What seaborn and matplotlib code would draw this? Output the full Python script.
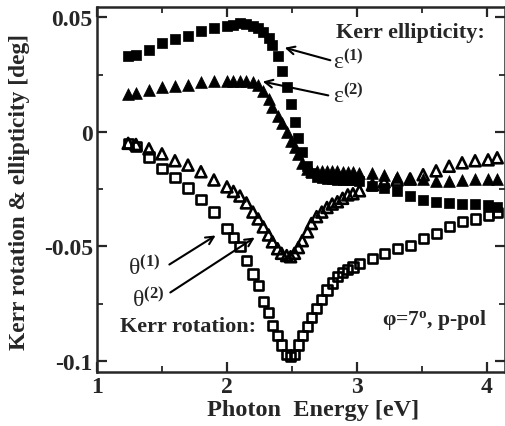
import numpy as np
import pandas as pd
import matplotlib
matplotlib.use("Agg")
import matplotlib.pyplot as plt
import seaborn as sns
from matplotlib.ticker import MultipleLocator, FixedLocator, FixedFormatter

energy = [1.24, 1.30, 1.40, 1.50, 1.60, 1.70, 1.80, 1.90, 2.00, 2.05,
          2.10, 2.15, 2.20, 2.24, 2.28, 2.32, 2.35, 2.39, 2.42, 2.46,
          2.49, 2.52, 2.55, 2.58, 2.62, 2.65, 2.69, 2.73, 2.77, 2.81,
          2.85, 2.89, 2.93, 2.97, 3.02, 3.12, 3.21, 3.31, 3.41, 3.51,
          3.61, 3.71, 3.81, 3.91, 4.01, 4.08]

eps1 = [0.0330, 0.0336, 0.0358, 0.0388, 0.0405, 0.0418, 0.0440, 0.0454, 0.0462, 0.0466,
        0.0475, 0.0472, 0.0460, 0.0452, 0.0438, 0.0410, 0.0380, 0.0330, 0.0266, 0.0196,
        0.0122, 0.0044, -0.0025, -0.0090, -0.0150, -0.0180, -0.0195, -0.0200, -0.0205, -0.0205,
        -0.0210, -0.0210, -0.0210, -0.0210, -0.0215, -0.0235, -0.0245, -0.0260, -0.0280, -0.0297,
        -0.0306, -0.0310, -0.0314, -0.0314, -0.0320, -0.0330]

eps2 = [0.0166, 0.0170, 0.0183, 0.0196, 0.0200, 0.0205, 0.0218, 0.0222, 0.0222, 0.0222,
        0.0222, 0.0222, 0.0218, 0.0205, 0.0180, 0.0144, 0.0110, 0.0070, 0.0040, 0.0000,
        -0.0040, -0.0065, -0.0095, -0.0135, -0.0160, -0.0170, -0.0172, -0.0172, -0.0172, -0.0172,
        -0.0172, -0.0175, -0.0175, -0.0175, -0.0180, -0.0180, -0.0190, -0.0196, -0.0205, -0.0205,
        -0.0213, -0.0213, -0.0210, -0.0205, -0.0205, -0.0205]

theta1 = [-0.0052, -0.0065, -0.0110, -0.0160, -0.0200, -0.0245, -0.0296, -0.0350, -0.0420, -0.0460,
          -0.0500, -0.0560, -0.0620, -0.0670, -0.0740, -0.0790, -0.0846, -0.0890, -0.0930, -0.0970,
          -0.0980, -0.0970, -0.0930, -0.0890, -0.0850, -0.0810, -0.0770, -0.0730, -0.0690, -0.0660,
          -0.0630, -0.0615, -0.0600, -0.0590, -0.0576, -0.0554, -0.0530, -0.0510, -0.0497, -0.0467,
          -0.0445, -0.0414, -0.0390, -0.0380, -0.0366, -0.0353]

theta2 = [-0.0050, -0.0055, -0.0074, -0.0096, -0.0126, -0.0145, -0.0174, -0.0210, -0.0240, -0.0260,
          -0.0280, -0.0310, -0.0350, -0.0380, -0.0415, -0.0450, -0.0480, -0.0510, -0.0530, -0.0540,
          -0.0545, -0.0530, -0.0505, -0.0475, -0.0436, -0.0400, -0.0370, -0.0350, -0.0330, -0.0315,
          -0.0305, -0.0290, -0.0275, -0.0270, -0.0257, -0.0231, -0.0218, -0.0210, -0.0205, -0.0187,
          -0.0170, -0.0150, -0.0135, -0.0126, -0.0122, -0.0113]

x_ticks = [1, 2, 3, 4]
x_tick_labels = ["1", "2", "3", "4"]
y_ticks = [-0.1, -0.05, 0, 0.05]
y_tick_labels = ["-0.1", "-0.05", "0", "0.05"]

sns.set_style("ticks")
plt.rcParams["font.family"] = ["Liberation Serif", "DejaVu Serif"]
plt.rcParams.update({
    "font.weight": "bold",
    "mathtext.fontset": "custom",
    "mathtext.rm": "Liberation Serif",
    "mathtext.bf": "Liberation Serif:bold",
    "mathtext.it": "Liberation Serif:italic",
})

df = pd.DataFrame({"E": energy, "eps1": eps1, "eps2": eps2,
                   "theta1": theta1, "theta2": theta2})

fig = plt.figure(figsize=(5.06, 4.27), dpi=100)
ax = fig.add_axes([97 / 506, 1 - 373 / 427, (505 - 97) / 506, (373 - 8) / 427])

sns.scatterplot(data=df, x="E", y="theta1", marker="s", s=44,
                facecolor="none", edgecolor="black", linewidth=1.9, ax=ax, zorder=3)
sns.scatterplot(data=df, x="E", y="theta2", marker="^", s=62,
                facecolor="none", edgecolor="black", linewidth=1.9, ax=ax, zorder=3)
sns.scatterplot(data=df, x="E", y="eps1", marker="s", s=52,
                color="black", edgecolor="black", linewidth=0.5, ax=ax, zorder=4)
sns.scatterplot(data=df, x="E", y="eps2", marker="^", s=72,
                color="black", edgecolor="black", linewidth=0.5, ax=ax, zorder=4)

ax.set_xlim(1, 4.14)
ax.set_ylim(-0.1048, 0.0545)
ax.xaxis.set_major_locator(FixedLocator(x_ticks))
ax.xaxis.set_major_formatter(FixedFormatter(x_tick_labels))
ax.yaxis.set_major_locator(FixedLocator(y_ticks))
ax.yaxis.set_major_formatter(FixedFormatter(y_tick_labels))
ax.xaxis.set_minor_locator(MultipleLocator(0.5))
ax.yaxis.set_minor_locator(MultipleLocator(0.025))
ax.tick_params(which="major", direction="in", top=True, right=True,
               length=7, width=1.6, labelsize=17, pad=3)
ax.tick_params(which="minor", direction="in", top=True, right=True,
               length=4, width=1.3)
for lab in ax.get_xticklabels() + ax.get_yticklabels():
    lab.set_fontweight("bold")
for sp in ax.spines.values():
    sp.set_linewidth(1.8)
    sp.set_visible(True)

ax.set_xlabel("Photon  Energy [eV]", fontsize=17.5, fontweight="bold")
ax.set_ylabel("Kerr rotation & ellipticity [deg]", fontsize=16.8, fontweight="bold")
ax.xaxis.label.set_va("center")
ax.yaxis.label.set_va("center")
ax.xaxis.set_label_coords((313 - 97) / 408, (373 - 411) / 365)
ax.yaxis.set_label_coords((20 - 97) / 408, (373 - 192) / 365)

def fpx(x, y):
    return (x / 506, 1 - y / 427)

fig.text(*fpx(336, 33), "Kerr ellipticity:", fontsize=16, fontweight="bold", va="center", ha="left")
fig.text(*fpx(120, 327), "Kerr rotation:", fontsize=16, fontweight="bold", va="center", ha="left")
fig.text(*fpx(382, 320), r"φ=7$^{\mathbf{o}}$, p-pol", fontsize=15.5, fontweight="bold",
         va="center", ha="left")

arrowprops = dict(arrowstyle="->", color="black", lw=1.5, mutation_scale=14)
ax.annotate("", xy=fpx(282, 48), xycoords="figure fraction",
            xytext=fpx(333, 62), textcoords="figure fraction", arrowprops=arrowprops)
ax.annotate("", xy=fpx(260, 82), xycoords="figure fraction",
            xytext=fpx(331, 97), textcoords="figure fraction", arrowprops=arrowprops)
ax.annotate("", xy=fpx(218, 235), xycoords="figure fraction",
            xytext=fpx(167, 267), textcoords="figure fraction", arrowprops=arrowprops)
ax.annotate("", xy=fpx(257, 237), xycoords="figure fraction",
            xytext=fpx(168, 295), textcoords="figure fraction", arrowprops=arrowprops)

fig.text(*fpx(333, 62), r"ε$^{\mathbf{(1)}}$", fontsize=17, fontweight="normal", va="center", ha="left")
fig.text(*fpx(333, 96), r"ε$^{\mathbf{(2)}}$", fontsize=17, fontweight="normal", va="center", ha="left")
fig.text(*fpx(128, 268), r"θ$^{\mathbf{(1)}}$", fontsize=17, fontweight="normal", va="center", ha="left")
fig.text(*fpx(132, 300), r"θ$^{\mathbf{(2)}}$", fontsize=17, fontweight="normal", va="center", ha="left")

fig.savefig("out.png", dpi=100)
